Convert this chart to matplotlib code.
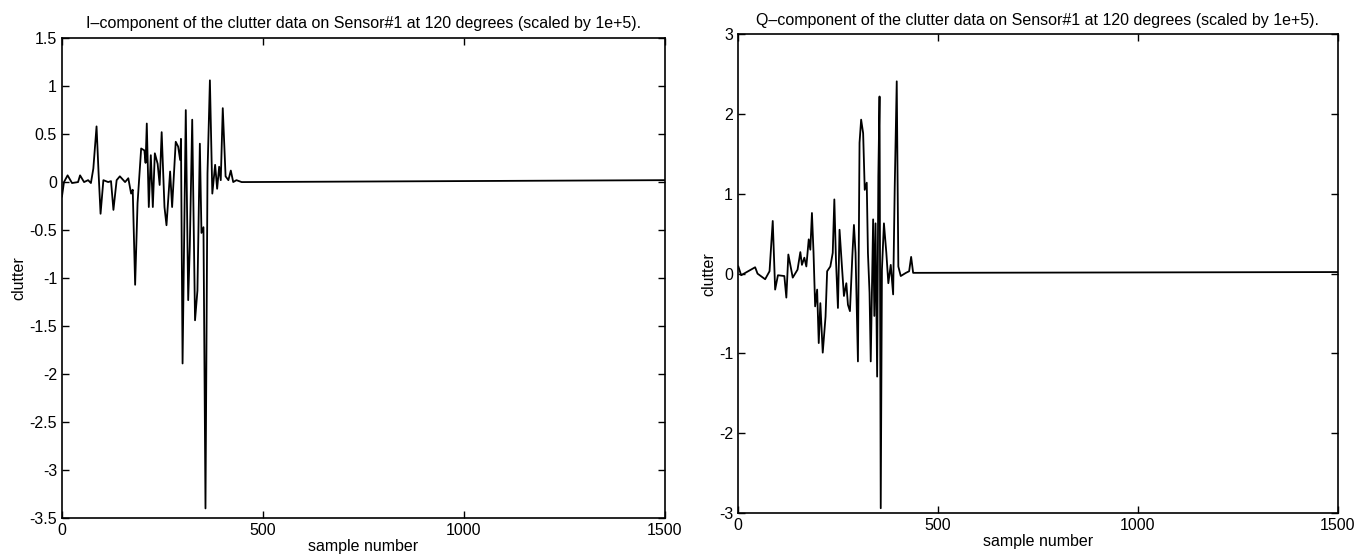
import matplotlib.pyplot as plt

# I-component (sample number, value)
i_samples = [0, 5, 14, 25, 40, 45, 55, 65, 72, 78, 86, 91, 96, 103, 115, 122, 128, 136,
             144, 157, 165, 172, 176, 182, 188, 197, 205, 208, 211, 216, 221, 226, 231,
             238, 243, 248, 255, 260, 269, 274, 283, 289, 294, 296, 300, 308, 314, 318,
             324, 331, 337, 343, 347, 352, 357, 362, 368, 374, 381, 386, 391, 395, 400,
             407, 414, 420, 426, 434, 447, 1500]
i_values = [-0.15, 0.0, 0.07, -0.01, 0.0, 0.07, 0.0, 0.02, -0.01, 0.14, 0.58, 0.1, -0.33,
            0.02, 0.0, 0.01, -0.29, 0.02, 0.06, 0.0, 0.04, -0.12, -0.08, -1.07, -0.22,
            0.35, 0.33, 0.2, 0.61, -0.26, 0.28, -0.26, 0.30, 0.19, -0.03, 0.52, -0.26,
            -0.45, 0.11, -0.26, 0.42, 0.37, 0.23, 0.45, -1.89, 0.75, -1.23, -0.67, 0.65,
            -1.44, -1.13, 0.40, -0.53, -0.47, -3.4, 0.09, 1.06, -0.12, 0.18, -0.07, 0.16,
            0.02, 0.77, 0.06, 0.02, 0.12, 0.0, 0.02, 0.0, 0.02]

# Q-component (sample number, value)
q_samples = [1, 8, 43, 49, 68, 79, 87, 93, 100, 116, 121, 126, 137, 149, 156, 160, 166,
             171, 177, 181, 185, 189, 193, 198, 202, 206, 212, 219, 223, 231, 237, 241,
             245, 250, 254, 260, 265, 271, 275, 280, 286, 290, 294, 300, 304, 308, 313,
             317, 322, 325, 329, 332, 338, 341, 344, 348, 351, 354, 357, 360, 365, 371,
             376, 382, 388, 392, 397, 401, 407, 420, 428, 433, 438, 445, 1500]
q_values = [0.09, -0.02, 0.08, 0.0, -0.07, 0.03, 0.66, -0.2, -0.02, -0.03, -0.3, 0.24,
            -0.05, 0.05, 0.27, 0.11, 0.2, 0.09, 0.43, 0.3, 0.76, 0.26, -0.41, -0.2, -0.87,
            -0.37, -0.99, -0.54, 0.03, 0.09, 0.26, 0.93, 0.18, -0.43, 0.55, 0.09, -0.28,
            -0.12, -0.39, -0.47, 0.22, 0.61, 0.26, -1.1, 1.64, 1.93, 1.76, 1.05, 1.14,
            0.26, -0.24, -1.1, 0.68, -0.53, 0.63, -1.29, 1.22, 2.22, -2.94, 0.05, 0.63,
            0.26, -0.12, 0.11, -0.26, 1.09, 2.41, 0.09, -0.03, 0.01, 0.03, 0.21, 0.01,
            0.01, 0.02]

x_ticks = [0, 500, 1000, 1500]
i_yticks = [-3.5, -3, -2.5, -2, -1.5, -1, -0.5, 0, 0.5, 1, 1.5]
q_yticks = [-3, -2, -1, 0, 1, 2, 3]

plt.rcParams['font.family'] = ['Liberation Sans', 'DejaVu Sans']

fig = plt.figure(figsize=(13.59, 5.58), dpi=100)
ax1 = fig.add_axes([0.0456, 0.0717, 0.4437, 0.860])
ax2 = fig.add_axes([0.543, 0.0806, 0.4415, 0.858])


def style(ax, yticks, ylim, title):
    ax.set_xlim(0, 1500)
    ax.set_ylim(*ylim)
    ax.set_xticks(x_ticks)
    ax.set_yticks(yticks)
    ax.set_yticklabels([f"{t:g}" for t in yticks])
    ax.tick_params(direction='in', top=True, right=True, length=5, labelsize=11.5, width=1)
    ax.set_xlabel('sample number', fontsize=11.5, labelpad=1)
    ax.set_ylabel('clutter', fontsize=11.5, labelpad=2)
    ax.set_title(title, fontsize=11.5, pad=7)
    for s in ax.spines.values():
        s.set_linewidth(1.2)


ax1.plot(i_samples, i_values, color='black', lw=1.3)
style(ax1, i_yticks, (-3.5, 1.5),
      'I\u2013component of the clutter data on Sensor#1 at 120 degrees (scaled by 1e+5).')

ax2.plot(q_samples, q_values, color='black', lw=1.3)
style(ax2, q_yticks, (-3, 3),
      'Q\u2013component of the clutter data on Sensor#1 at 120 degrees (scaled by 1e+5).')

fig.savefig('out.png', dpi=100)
